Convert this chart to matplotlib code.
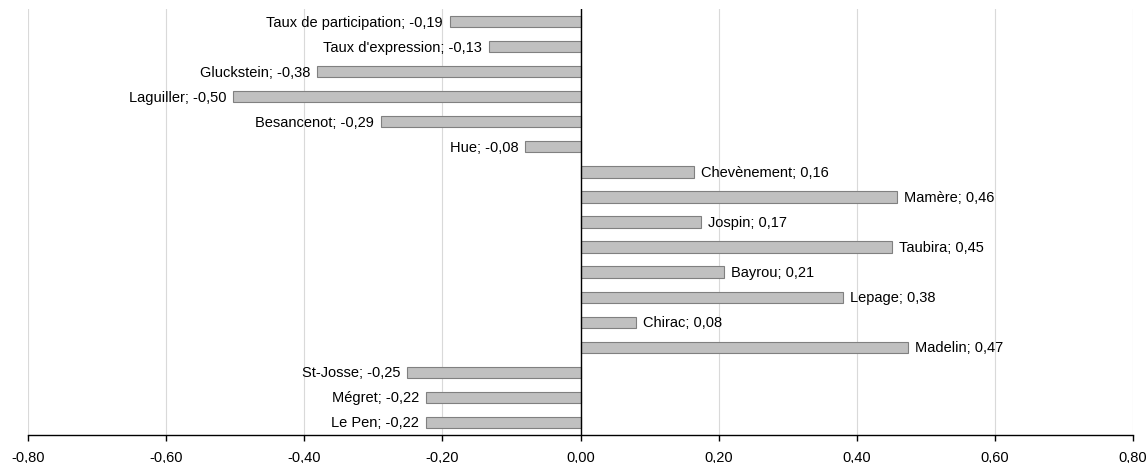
import matplotlib.pyplot as plt

plt.rcParams['font.family'] = ['Liberation Sans', 'DejaVu Sans']

# Data (top to bottom as in the chart)
names = ["Taux de participation", "Taux d'expression", "Gluckstein", "Laguiller",
         "Besancenot", "Hue", "Chevènement", "Mamère", "Jospin", "Taubira",
         "Bayrou", "Lepage", "Chirac", "Madelin", "St-Josse", "Mégret", "Le Pen"]
values = [-0.189, -0.133, -0.381, -0.503, -0.289, -0.080, 0.164, 0.458, 0.174,
          0.451, 0.208, 0.380, 0.081, 0.474, -0.251, -0.224, -0.224]
xticks = [-0.8, -0.6, -0.4, -0.2, 0.0, 0.2, 0.4, 0.6, 0.8]

fig = plt.figure(figsize=(11.48, 4.64), dpi=100)
ax = fig.add_axes([28 / 1148, 28 / 464, 1105 / 1148, 426 / 464])

n = len(names)
ypos = list(range(n - 1, -1, -1))
ax.barh(ypos, values, height=0.45, color="#C0C0C0", edgecolor="#808080", linewidth=0.8, zorder=3)

for y, name, v in zip(ypos, names, values):
    label = "%s; %s" % (name, ("%.2f" % v).replace(".", ","))
    if v < 0:
        ax.annotate(label, (v, y), xytext=(-5, 0), textcoords="offset points",
                    ha="right", va="center", fontsize=10.5, color="#000000", zorder=4)
    else:
        ax.annotate(label, (v, y), xytext=(5, 0), textcoords="offset points",
                    ha="left", va="center", fontsize=10.5, color="#000000", zorder=4)

ax.set_xlim(-0.8, 0.8)
ax.set_ylim(-0.5, n - 0.5)
ax.set_xticks(xticks)
ax.set_xticklabels([("%.2f" % t).replace(".", ",") for t in xticks], fontsize=10.5)
ax.set_yticks([])
ax.grid(axis="x", color="#D9D9D9", linewidth=0.8, zorder=0)
ax.axvline(0, color="#000000", linewidth=1.0, zorder=5)

for s in ["top", "right", "left"]:
    ax.spines[s].set_visible(False)
ax.spines["bottom"].set_color("#000000")
ax.spines["bottom"].set_linewidth(1.0)
ax.tick_params(axis="x", direction="out", length=4, width=1.0, color="#000000", pad=7)

plt.savefig("out.png", dpi=100)
